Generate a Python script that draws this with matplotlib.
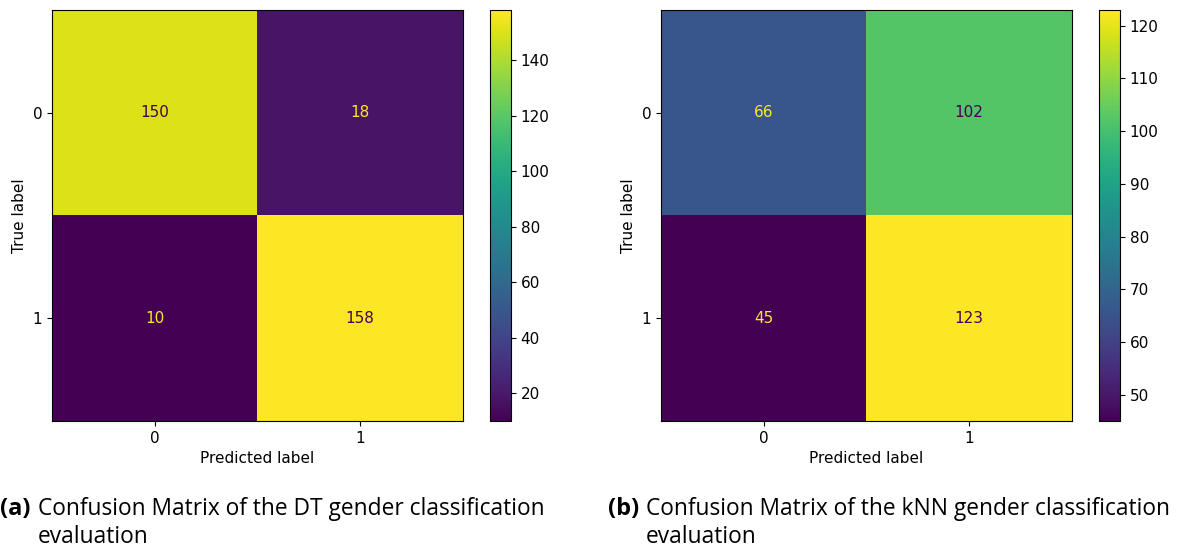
import numpy as np
import matplotlib.pyplot as plt

labels = ["0", "1"]
cm_dt = np.array([[150, 18], [10, 158]])
cm_knn = np.array([[66, 102], [45, 123]])
ticks_dt = [20, 40, 60, 80, 100, 120, 140]
ticks_knn = [50, 60, 70, 80, 90, 100, 110, 120]
captions = [
    ("(a)", "Confusion Matrix of the DT gender classification", "evaluation"),
    ("(b)", "Confusion Matrix of the kNN gender classification", "evaluation"),
]

W, H = 1184, 551
fig = plt.figure(figsize=(W / 100, H / 100), dpi=100)
cmap = plt.get_cmap("viridis")
fs = 11


def px(x0, y0, w, h):
    # pixel box (top-left origin) -> figure fraction
    return [x0 / W, 1 - (y0 + h) / H, w / W, h / H]


def draw_cm(ax, cax, cm, cticks):
    im = ax.imshow(cm, cmap=cmap, interpolation="nearest")
    thresh = (cm.max() + cm.min()) / 2.0
    for i in range(cm.shape[0]):
        for j in range(cm.shape[1]):
            color = cmap(0) if cm[i, j] >= thresh else cmap(256)
            ax.text(j, i, str(cm[i, j]), ha="center", va="center",
                    color=color, fontsize=fs)
    ax.set_xticks(range(len(labels)))
    ax.set_yticks(range(len(labels)))
    ax.set_xticklabels(labels, fontsize=fs)
    ax.set_yticklabels(labels, fontsize=fs)
    ax.set_xlabel("Predicted label", fontsize=fs)
    ax.set_ylabel("True label", fontsize=fs)
    cb = fig.colorbar(im, cax=cax)
    cb.set_ticks(cticks)
    cb.ax.tick_params(labelsize=fs)
    cb.outline.set_linewidth(0.8)


ax1 = fig.add_axes(px(52, 10, 411, 411))
cax1 = fig.add_axes(px(490, 10, 21, 411))
draw_cm(ax1, cax1, cm_dt, ticks_dt)

ax2 = fig.add_axes(px(661, 10, 411, 411))
cax2 = fig.add_axes(px(1099, 10, 21, 411))
draw_cm(ax2, cax2, cm_knn, ticks_knn)

for x0, (tag, line1, line2) in zip([0, 608], captions):
    fig.text(x0 / W, 1 - 509 / H, tag, fontsize=17, fontweight="bold",
             family="Open Sans", va="center", ha="left")
    fig.text((x0 + 38) / W, 1 - 509 / H, line1, fontsize=16.4,
             family="Open Sans", va="center", ha="left")
    fig.text((x0 + 38) / W, 1 - 537 / H, line2, fontsize=16.4,
             family="Open Sans", va="center", ha="left")

fig.savefig("out.png", dpi=100)
